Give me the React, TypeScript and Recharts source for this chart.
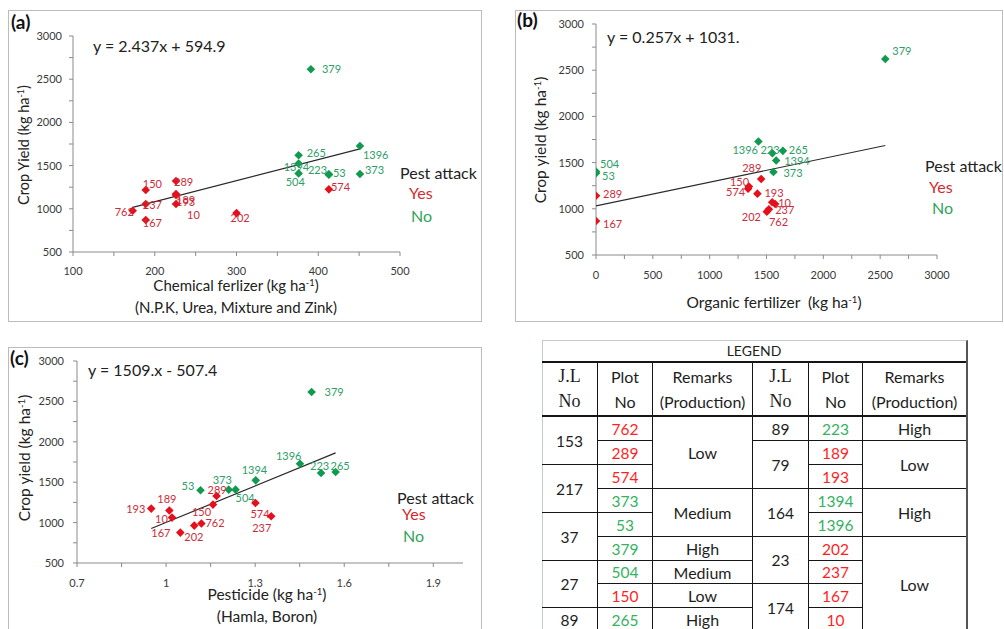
import React from 'react';
import { ScatterChart, Scatter, XAxis, YAxis } from 'recharts';

const FONT = 'Lato, "Open Sans", Arial, sans-serif';
const SERIF = '"Liberation Serif", "DejaVu Serif", serif';

// ---------- Panel (a): chemical fertilizer ----------
const CHEM_LABELS = ['762', '150', '237', '167', '289', '189', '193', '10', '202', '574', '379', '265', '1394', '504', '223', '53', '373', '1396'];
const CHEM_X = [173, 189, 189, 189, 226, 226, 226, 226, 300, 413, 391, 376, 376, 376, 413, 413, 451, 451];
const CHEM_Y = [978, 1218, 1055, 870, 1322, 1170, 1160, 1056, 950, 1225, 2615, 1620, 1525, 1410, 1400, 1395, 1403, 1727];
const CHEM_PEST = ['Yes', 'Yes', 'Yes', 'Yes', 'Yes', 'Yes', 'Yes', 'Yes', 'Yes', 'Yes', 'No', 'No', 'No', 'No', 'No', 'No', 'No', 'No'];
const CHEM_SLOPE = 2.437;
const CHEM_INTERCEPT = 594.9;
const CHEM_X_TICKS = [100, 150, 200, 250, 300, 350, 400, 450, 500];

// ---------- Panel (b): organic fertilizer ----------
const ORG_LABELS = ['379', '504', '53', '289', '167', '1396', '223', '265', '1394', '373', '289', '150', '574', '193', '10', '237', '202', '762'];
const ORG_X = [2545, 0, 0, 0, 0, 1429, 1552, 1644, 1585, 1561, 1453, 1345, 1338, 1420, 1576, 1550, 1503, 1521];
const ORG_Y = [2621, 1403, 1385, 1142, 868, 1728, 1602, 1627, 1522, 1399, 1323, 1240, 1218, 1164, 1052, 1071, 969, 995];
const ORG_PEST = ['No', 'No', 'No', 'Yes', 'Yes', 'No', 'No', 'No', 'No', 'No', 'Yes', 'Yes', 'Yes', 'Yes', 'Yes', 'Yes', 'Yes', 'Yes'];
const ORG_SLOPE = 0.257;
const ORG_INTERCEPT = 1031;
const ORG_X_TICKS = [0, 250, 500, 750, 1000, 1250, 1500, 1750, 2000, 2250, 2500, 2750, 3000];

// ---------- Panel (c): pesticide ----------
const PEST_LABELS = ['379', '1396', '223', '265', '1394', '373', '504', '53', '289', '150', '193', '189', '10', '167', '202', '762', '574', '237'];
const PEST_X = [1.49, 1.451, 1.522, 1.571, 1.302, 1.211, 1.234, 1.116, 1.17, 1.158, 0.95, 1.011, 1.02, 1.048, 1.095, 1.119, 1.301, 1.354];
const PEST_Y = [2616, 1729, 1614, 1626, 1523, 1408, 1408, 1400, 1329, 1223, 1173, 1150, 1062, 876, 963, 988, 1243, 1078];
const PEST_PEST = ['No', 'No', 'No', 'No', 'No', 'No', 'No', 'No', 'Yes', 'Yes', 'Yes', 'Yes', 'Yes', 'Yes', 'Yes', 'Yes', 'Yes', 'Yes'];
const PEST_SLOPE = 1509;
const PEST_INTERCEPT = -507.4;
const PEST_X_TICKS = [0.7, 0.85, 1, 1.15, 1.3, 1.45, 1.6, 1.75, 1.9];

const Y_TICKS = [500, 750, 1000, 1250, 1500, 1750, 2000, 2250, 2500, 2750, 3000];

// label placement (pixel offsets from marker), kept apart from the data
const CHEM_LABEL_OFFSETS = [[-18, 1], [-3, -6], [-3, 1], [-3, 3], [-2, 1], [0, 6], [0, 7], [11, 11], [-6, 5], [2, -2], [11, 0], [8, -2], [-15, 4], [-13, 9], [-21, -4], [4, -2], [5, -4], [3, 9]];
const ORG_LABEL_OFFSETS = [[7, -8], [4, -8], [6, 3], [7, -2], [7, 3], [-26, 8], [-12, -3], [6, -1], [8, 0], [10, 1], [-19, -11], [-19, -5], [-22, 3], [7, -1], [3, -1], [3, 8], [-25, 5], [0, 13]];
const PEST_LABEL_OFFSETS = [[13, 0], [-24, -8], [-11, -7], [-5, -6], [-14, -10], [-16, -10], [0, 8], [-19, -4], [-9, -6], [-21, 7], [-25, 0], [-12, -11], [-17, 1], [-29, 0], [-10, 11], [4, -1], [-5, 11], [-19, 12]];

// ---------- Legend table ----------
const LEFT_JL = [{ t: '153', span: 2 }, { t: '217', span: 2 }, { t: '37', span: 2 }, { t: '27', span: 2 }, { t: '89', span: 1 }];
const LEFT_PLOTS = ['762', '289', '574', '373', '53', '379', '504', '150', '265'];
const LEFT_REMARKS = [{ t: 'Low', span: 3 }, { t: 'Medium', span: 2 }, { t: 'High', span: 1 }, { t: 'Medium', span: 1 }, { t: 'Low', span: 1 }, { t: 'High', span: 1 }];
const RIGHT_JL = [{ t: '89', span: 1 }, { t: '79', span: 2 }, { t: '164', span: 2 }, { t: '23', span: 2 }, { t: '174', span: 2 }];
const RIGHT_PLOTS = ['223', '189', '193', '1394', '1396', '202', '237', '167', '10'];
const RIGHT_REMARKS = [{ t: 'High', span: 1 }, { t: 'Low', span: 2 }, { t: 'High', span: 2 }, { t: 'Low', span: 4 }];

const RED_MARK = '#e5101b';
const RED_TEXT = '#cc2c3a';
const GREEN_MARK = '#109a50';
const GREEN_TEXT = '#2e9e68';
const AXIS = '#8a8a8a';
const TICK = '#3a3a3a';

type Pt = { label: string; x: number; y: number; dx: number; dy: number };

function buildPoints(labels: string[], xs: number[], ys: number[], pest: string[], offsets: number[][], want: string): Pt[] {
  const out: Pt[] = [];
  labels.forEach((l, i) => {
    if (pest[i] === want) out.push({ label: l, x: xs[i], y: ys[i], dx: offsets[i][0], dy: offsets[i][1] });
  });
  return out;
}

function trend(xs: number[], slope: number, intercept: number) {
  const lo = Math.min(...xs);
  const hi = Math.max(...xs);
  return [
    { x: lo, y: slope * lo + intercept },
    { x: hi, y: slope * hi + intercept },
  ];
}

const makeShape = (mark: string, text: string) => (props: any) => {
  const { cx, cy, payload } = props;
  if (cx == null || cy == null || !payload) return <g />;
  const r = 4.3;
  return (
    <g>
      <polygon points={`${cx},${cy - r} ${cx + r},${cy} ${cx},${cy + r} ${cx - r},${cy}`} fill={mark} />
      <text x={cx + payload.dx} y={cy + payload.dy + 4} fontSize={11} fill={text} fontFamily={FONT}>
        {payload.label}
      </text>
    </g>
  );
};
const redShape = makeShape(RED_MARK, RED_TEXT);
const greenShape = makeShape(GREEN_MARK, GREEN_TEXT);
const noShape = () => <g />;

const yFmt = (v: number) => (v % 500 === 0 ? String(v) : '');

type PanelProps = {
  width: number;
  height: number;
  margin: { top: number; right: number; bottom: number; left: number };
  yWidth: number;
  xHeight: number;
  xDomain: [number, number];
  xTicks: number[];
  xFmt: (v: number, i: number) => string;
  xTickMargin: number;
  yTickMargin: number;
  labels: string[];
  xs: number[];
  ys: number[];
  pest: string[];
  offsets: number[][];
  slope: number;
  intercept: number;
};

function Panel(p: PanelProps) {
  const yes = buildPoints(p.labels, p.xs, p.ys, p.pest, p.offsets, 'Yes');
  const no = buildPoints(p.labels, p.xs, p.ys, p.pest, p.offsets, 'No');
  const line = trend(p.xs, p.slope, p.intercept);
  return (
    <ScatterChart width={p.width} height={p.height} margin={p.margin}>
      <XAxis
        type="number"
        dataKey="x"
        domain={p.xDomain}
        ticks={p.xTicks}
        tickFormatter={p.xFmt}
        interval={0}
        tickSize={4}
        tickMargin={p.xTickMargin}
        height={p.xHeight}
        stroke={AXIS}
        tick={{ fontSize: 11, fill: TICK, fontFamily: FONT }}
        allowDataOverflow
      />
      <YAxis
        type="number"
        dataKey="y"
        domain={[500, 3000]}
        ticks={Y_TICKS}
        tickFormatter={yFmt}
        interval={0}
        tickSize={4}
        tickMargin={p.yTickMargin}
        width={p.yWidth}
        stroke={AXIS}
        tick={{ fontSize: 11, fill: TICK, fontFamily: FONT }}
        allowDataOverflow
      />
      <Scatter data={line} line={{ stroke: '#2a2a2a', strokeWidth: 1.2 }} shape={noShape} isAnimationActive={false} />
      <Scatter data={no} shape={greenShape} isAnimationActive={false} />
      <Scatter data={yes} shape={redShape} isAnimationActive={false} />
    </ScatterChart>
  );
}

function Txt({ x, cy, size = 16, color = '#222', weight = 400, center = false, family = FONT, children }: any) {
  const style: React.CSSProperties = {
    position: 'absolute',
    top: cy - size * 0.56,
    fontSize: size,
    lineHeight: `${size}px`,
    color,
    fontWeight: weight,
    fontFamily: family,
    whiteSpace: 'pre',
  };
  if (center) {
    style.left = x - 200;
    style.width = 400;
    style.textAlign = 'center';
  } else {
    style.left = x;
  }
  return <div style={style}>{children}</div>;
}

function VTxt({ cx, cy, size = 15, children }: any) {
  return (
    <div
      style={{
        position: 'absolute',
        left: cx - 100,
        top: cy - 10,
        width: 200,
        height: 20,
        lineHeight: '20px',
        textAlign: 'center',
        fontSize: size,
        fontFamily: FONT,
        color: '#222',
        whiteSpace: 'pre',
        transform: 'rotate(-90deg)',
      }}
    >
      {children}
    </div>
  );
}

const Sup = () => <sup style={{ fontSize: '0.62em', lineHeight: 0, verticalAlign: '0.55em' }}>-1</sup>;

const box = (left: number, top: number, width: number, height: number): React.CSSProperties => ({
  position: 'absolute',
  left,
  top,
  width,
  height,
  border: '1px solid #bcbcbc',
  boxSizing: 'border-box',
});

const abs = (left: number, top: number): React.CSSProperties => ({ position: 'absolute', left, top });

const pestOf: Record<string, string> = {};
CHEM_LABELS.forEach((l, i) => {
  pestOf[l] = CHEM_PEST[i];
});

function LegendTable() {
  const cols = [542, 598, 653, 753, 809, 863, 966];
  const rows = [417, 441, 465, 489, 513, 537, 561, 584, 608, 632];
  const cells: React.ReactNode[] = [];
  const cell = (key: string, c: number, r: number, span: number, content: React.ReactNode, color = '#1e1e1e', size = 16) => {
    cells.push(
      <div
        key={key}
        style={{
          position: 'absolute',
          left: cols[c],
          top: rows[r],
          width: cols[c + 1] - cols[c],
          height: rows[r + span] - rows[r],
          borderRight: c === 5 ? 'none' : '1px solid #151515',
          borderBottom: '1px solid #151515',
          boxSizing: 'border-box',
          display: 'flex',
          alignItems: 'center',
          justifyContent: 'center',
          fontFamily: FONT,
          fontSize: size,
          color,
        }}
      >
        {content}
      </div>
    );
  };
  const spans = (items: { t: string; span: number }[], c: number, prefix: string, size: number) => {
    let r = 0;
    items.forEach((it, i) => {
      cell(`${prefix}${i}`, c, r, it.span, it.t, '#1e1e1e', size);
      r += it.span;
    });
  };
  spans(LEFT_JL, 0, 'lj', 15.5);
  spans(LEFT_REMARKS, 2, 'lr', 16);
  spans(RIGHT_JL, 3, 'rj', 15.5);
  spans(RIGHT_REMARKS, 5, 'rr', 16);
  LEFT_PLOTS.forEach((p, i) => cell(`lp${i}`, 1, i, 1, p, pestOf[p] === 'Yes' ? '#ff1f1f' : '#35b25f', 15.5));
  RIGHT_PLOTS.forEach((p, i) => cell(`rp${i}`, 4, i, 1, p, pestOf[p] === 'Yes' ? '#ff1f1f' : '#35b25f', 15.5));

  const header = (c: number, a: string, b: string, serif: boolean) => (
    <div
      key={`h${c}`}
      style={{
        position: 'absolute',
        left: cols[c],
        top: 363,
        width: cols[c + 1] - cols[c],
        height: 54,
        borderRight: c === 5 ? 'none' : '1px solid #151515',
        borderBottom: '2px solid #151515',
        boxSizing: 'border-box',
        display: 'flex',
        flexDirection: 'column',
        alignItems: 'center',
        justifyContent: 'center',
        fontFamily: serif ? SERIF : FONT,
        fontSize: serif ? 18 : 16,
        lineHeight: '25px',
        color: '#1e1e1e',
        whiteSpace: 'nowrap',
      }}
    >
      <div>{a}</div>
      <div>{b}</div>
    </div>
  );

  return (
    <>
      <div
        style={{
          position: 'absolute',
          left: 542,
          top: 340,
          width: 426,
          height: 300,
          borderTop: '1px solid #c3cad3',
          borderLeft: '1px solid #c3cad3',
          borderRight: '2px solid #555',
          boxSizing: 'border-box',
        }}
      />
      <div
        style={{
          position: 'absolute',
          left: 542,
          top: 340,
          width: 424,
          height: 23,
          borderBottom: '2px solid #151515',
          boxSizing: 'border-box',
          display: 'flex',
          alignItems: 'center',
          justifyContent: 'center',
          fontFamily: FONT,
          fontSize: 14,
          color: '#1e1e1e',
        }}
      >
        LEGEND
      </div>
      {header(0, 'J.L', 'No', true)}
      {header(1, 'Plot', 'No', false)}
      {header(2, 'Remarks', '(Production)', false)}
      {header(3, 'J.L', 'No', true)}
      {header(4, 'Plot', 'No', false)}
      {header(5, 'Remarks', '(Production)', false)}
      {cells}
    </>
  );
}

export default function App() {
  return (
    <div
      style={{
        position: 'absolute',
        left: 0,
        top: 0,
        width: 1004,
        height: 629,
        overflow: 'hidden',
        background: '#fff',
      }}
    >
      {/* Panel (a) */}
      <div style={box(8, 10, 474, 312)} />
      <div style={abs(8, 10)}>
        <Panel
          width={474}
          height={312}
          margin={{ top: 26, right: 82, bottom: 0, left: 0 }}
          yWidth={65}
          xHeight={70}
          xDomain={[100, 500]}
          xTicks={CHEM_X_TICKS}
          xFmt={(v: number) => (v % 100 === 0 ? String(v) : '')}
          xTickMargin={11}
          yTickMargin={7}
          labels={CHEM_LABELS}
          xs={CHEM_X}
          ys={CHEM_Y}
          pest={CHEM_PEST}
          offsets={CHEM_LABEL_OFFSETS}
          slope={CHEM_SLOPE}
          intercept={CHEM_INTERCEPT}
        />
      </div>
      <Txt x={11} cy={23} size={19} weight={700} color="#111">(a)</Txt>
      <Txt x={93} cy={47} size={16}>y = 2.437x + 594.9</Txt>
      <Txt x={400} cy={174} size={16}>Pest attack</Txt>
      <Txt x={409} cy={194} size={16} color="#d02a2f">Yes</Txt>
      <Txt x={411} cy={216.5} size={16} color="#2fa35a">No</Txt>
      <Txt x={236} cy={286.5} size={15} center>
        Chemical ferlizer (kg ha<Sup />)
      </Txt>
      <Txt x={236} cy={308.5} size={15} center>
        (N.P.K, Urea, Mixture and Zink)
      </Txt>
      <VTxt cx={24} cy={145} size={14.5}>
        Crop Yield (kg ha<Sup />)
      </VTxt>

      {/* Panel (b) */}
      <div style={box(515, 10, 488, 312)} />
      <div style={abs(515, 10)}>
        <Panel
          width={488}
          height={312}
          margin={{ top: 14, right: 66, bottom: 0, left: 0 }}
          yWidth={81}
          xHeight={67}
          xDomain={[0, 3000]}
          xTicks={ORG_X_TICKS}
          xFmt={(v: number) => (v % 500 === 0 ? String(v) : '')}
          xTickMargin={12}
          yTickMargin={8}
          labels={ORG_LABELS}
          xs={ORG_X}
          ys={ORG_Y}
          pest={ORG_PEST}
          offsets={ORG_LABEL_OFFSETS}
          slope={ORG_SLOPE}
          intercept={ORG_INTERCEPT}
        />
      </div>
      <Txt x={517} cy={21} size={19} weight={700} color="#111">(b)</Txt>
      <Txt x={607} cy={37.5} size={16}>y = 0.257x + 1031.</Txt>
      <Txt x={925} cy={167} size={16}>Pest attack</Txt>
      <Txt x={929} cy={187.5} size={16} color="#d02a2f">Yes</Txt>
      <Txt x={932} cy={208.5} size={16} color="#2fa35a">No</Txt>
      <Txt x={774} cy={304} size={15.5} center>
        Organic fertilizer  (kg ha<Sup />)
      </Txt>
      <VTxt cx={540} cy={140} size={15.5}>
        Crop yield (kg ha<Sup />)
      </VTxt>

      {/* Panel (c) */}
      <div style={box(8, 347, 474, 300)} />
      <div style={abs(8, 347)}>
        <Panel
          width={474}
          height={282}
          margin={{ top: 14, right: 19, bottom: 0, left: 0 }}
          yWidth={69}
          xHeight={66}
          xDomain={[0.7, 2.0]}
          xTicks={PEST_X_TICKS}
          xFmt={(v: number, i: number) => (i % 2 === 0 ? String(Math.round(v * 100) / 100) : '')}
          xTickMargin={12}
          yTickMargin={9}
          labels={PEST_LABELS}
          xs={PEST_X}
          ys={PEST_Y}
          pest={PEST_PEST}
          offsets={PEST_LABEL_OFFSETS}
          slope={PEST_SLOPE}
          intercept={PEST_INTERCEPT}
        />
      </div>
      <Txt x={10} cy={359} size={19} weight={700} color="#111">(c)</Txt>
      <Txt x={88} cy={371} size={16}>y = 1509.x - 507.4</Txt>
      <Txt x={397} cy={498.5} size={16}>Pest attack</Txt>
      <Txt x={402} cy={514.5} size={16} color="#d02a2f">Yes</Txt>
      <Txt x={403} cy={537} size={16} color="#2fa35a">No</Txt>
      <Txt x={267} cy={596} size={15.5} center>
        Pesticide (kg ha<Sup />)
      </Txt>
      <Txt x={267} cy={618} size={15.5} center>
        (Hamla, Boron)
      </Txt>
      <VTxt cx={24} cy={458} size={15.5}>
        Crop yield (kg ha<Sup />)
      </VTxt>

      {/* Legend table */}
      <LegendTable />
    </div>
  );
}
